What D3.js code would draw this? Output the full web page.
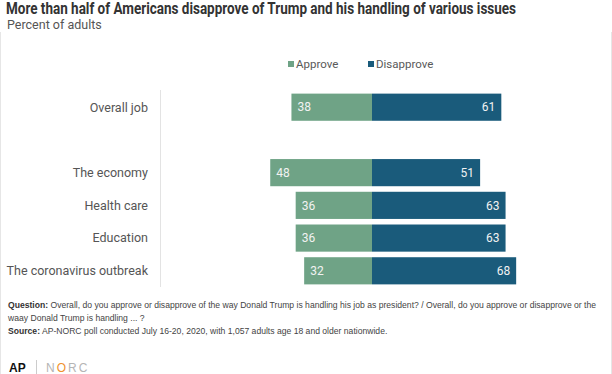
<!DOCTYPE html>
<html>
<head>
<meta charset="utf-8">
<script src="https://cdn.jsdelivr.net/npm/d3@7"></script>
<style>
  body { margin: 0; background: #fff; }
  svg { display: block; font-family: Roboto, "Noto Sans", sans-serif; }
</style>
</head>
<body>
<div id="chart"></div>
<script>
const categories = ["Overall job", "", "The economy", "Health care", "Education", "The coronavirus outbreak"];
const approve = [38, null, 48, 36, 36, 32];
const disapprove = [61, null, 51, 63, 63, 68];
const seriesNames = ["Approve", "Disapprove"];
const colors = ["#6fa386", "#1a5b7b"];

const W = 612, H = 374;
const svg = d3.select("#chart").append("svg").attr("width", W).attr("height", H);

// faint frame around the chart area
svg.append("line").attr("x1", 0.5).attr("x2", 0.5).attr("y1", 32).attr("y2", 374)
  .attr("stroke", "#e6e6e6");
svg.append("line").attr("x1", 611.5).attr("x2", 611.5).attr("y1", 32).attr("y2", 374)
  .attr("stroke", "#e6e6e6");

svg.append("text").attr("x", 6).attr("y", 14)
  .attr("font-size", 16).attr("font-weight", 700).attr("fill", "#333")
  .attr("textLength", 510).attr("lengthAdjust", "spacingAndGlyphs")
  .text("More than half of Americans disapprove of Trump and his handling of various issues");
svg.append("text").attr("x", 7).attr("y", 29)
  .attr("font-size", 12.5).attr("fill", "#555")
  .text("Percent of adults");

const x = d3.scaleLinear().domain([-100, 100]).range([372 - 212, 372 + 212]);
const y = d3.scaleBand().domain(categories.map((d, i) => i)).range([91, 287]).paddingInner(0.17).paddingOuter(0.08);

// faint axis line left of bars
svg.append("line").attr("x1", 160.5).attr("x2", 160.5).attr("y1", 90).attr("y2", 287)
  .attr("stroke", "#e3e3e3");

const rows = categories.map((c, i) => ({ i, c, a: approve[i], d: disapprove[i] })).filter((r) => r.a != null);

const g = svg.append("g");
g.selectAll(".ap").data(rows).enter().append("rect")
  .attr("x", (d) => x(-d.a)).attr("y", (d) => y(d.i))
  .attr("width", (d) => x(0) - x(-d.a)).attr("height", y.bandwidth())
  .attr("fill", colors[0]);
g.selectAll(".dis").data(rows).enter().append("rect")
  .attr("x", x(0)).attr("y", (d) => y(d.i))
  .attr("width", (d) => x(d.d) - x(0)).attr("height", y.bandwidth())
  .attr("fill", colors[1]);

g.selectAll(".apl").data(rows).enter().append("text")
  .attr("x", (d) => x(-d.a) + 6).attr("y", (d) => y(d.i) + y.bandwidth() / 2)
  .attr("dy", "0.35em").attr("font-size", 12).attr("fill", "#f2f2f2")
  .text((d) => d.a);
g.selectAll(".disl").data(rows).enter().append("text")
  .attr("x", (d) => x(d.d) - 6).attr("y", (d) => y(d.i) + y.bandwidth() / 2)
  .attr("dy", "0.35em").attr("text-anchor", "end").attr("font-size", 12).attr("fill", "#f2f2f2")
  .text((d) => d.d);

g.selectAll(".cat").data(rows).enter().append("text")
  .attr("x", 148).attr("y", (d) => y(d.i) + y.bandwidth() / 2)
  .attr("dy", "0.35em").attr("text-anchor", "end").attr("font-size", 12.5).attr("fill", "#555")
  .text((d) => d.c);

// legend
const legendX = [288, 368];
const legend = svg.append("g");
seriesNames.forEach((s, i) => {
  legend.append("rect").attr("x", legendX[i]).attr("y", 61).attr("width", 6).attr("height", 6).attr("fill", colors[i]);
  legend.append("text").attr("x", legendX[i] + 8).attr("y", 68)
    .attr("font-size", 11.5).attr("fill", "#595959").text(s);
});

// footer notes
const notes = [
  ["Question:", " Overall, do you approve or disapprove of the way Donald Trump is handling his job as president? / Overall, do you approve or disapprove or the"],
  ["", "waay Donald Trump is handling ... ?"],
  ["Source:", " AP-NORC poll conducted July 16-20, 2020,  with 1,057  adults age 18 and older nationwide."]
];
const noteY = [308, 321, 334];
notes.forEach((n, i) => {
  const t = svg.append("text").attr("x", 8).attr("y", noteY[i])
    .attr("font-size", 8.6).attr("fill", "#444")
    .style("font-family", "'Liberation Sans', sans-serif");
  t.append("tspan").attr("font-weight", 700).attr("fill", "#333").text(n[0]);
  t.append("tspan").text(n[1]);
});

// logos
svg.append("text").attr("x", 9).attr("y", 372).attr("font-size", 12).attr("font-weight", 900)
  .attr("fill", "#111").style("font-family", "'Liberation Sans', sans-serif").text("AP");
svg.append("line").attr("x1", 36.5).attr("x2", 36.5).attr("y1", 360).attr("y2", 374).attr("stroke", "#ccc");
const norc = svg.append("text").attr("x", 46).attr("y", 372).attr("font-size", 12)
  .attr("fill", "#b5b5b5").attr("letter-spacing", 2).style("font-family", "'Liberation Sans', sans-serif");
norc.append("tspan").text("N");
norc.append("tspan").attr("fill", "#f0922e").text("O");
norc.append("tspan").text("RC");
</script>
</body>
</html>
